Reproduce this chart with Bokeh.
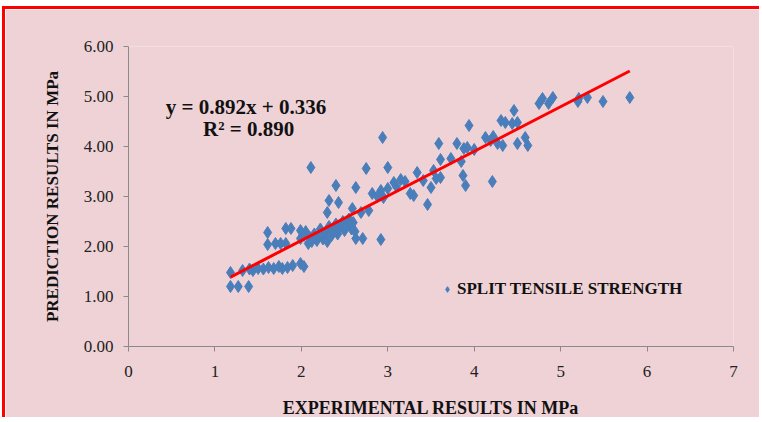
from bokeh.plotting import figure
from bokeh.models import Range1d, FixedTicker, NumeralTickFormatter, Legend, LegendItem, Label, ColumnDataSource
from bokeh.embed import file_html
from bokeh.resources import INLINE

# ---- data ----
experimental = [
    1.18, 1.27, 1.39,
    1.18, 1.32, 1.40, 1.44, 1.50, 1.56, 1.62, 1.68, 1.74, 1.78, 1.84, 1.90, 1.99, 2.03,
    1.61, 1.61, 1.70, 1.76, 1.82, 1.88, 1.82, 1.99, 1.99, 2.03, 2.08,
    2.05, 2.10, 2.12, 2.15, 2.18, 2.20, 2.22, 2.25, 2.28, 2.30, 2.32, 2.35, 2.38, 2.40, 2.42,
    2.45, 2.48, 2.50, 2.52, 2.55, 2.58, 2.60, 2.62,
    2.30, 2.32, 2.43, 2.59, 2.69, 2.78, 2.63, 2.71, 2.92,
    2.11, 2.40, 2.63, 2.75, 2.82, 2.92, 3.00, 2.88, 2.95, 2.94, 3.00,
    3.07, 3.10, 3.15, 3.20, 3.26, 3.30, 3.34, 3.41, 3.46, 3.50, 3.53, 3.56, 3.61, 3.59, 3.61,
    3.73, 3.80, 3.87, 3.88, 3.90, 3.94, 3.92, 3.85, 4.00,
    4.13, 4.19, 4.27, 4.21, 4.22, 4.31, 4.36, 4.44, 4.50, 4.46, 4.33, 4.50, 4.59, 4.62,
    4.75, 4.79, 4.86, 4.91, 5.20, 5.21, 5.31, 5.49, 5.80,
]
predicted = [
    1.20, 1.20, 1.20,
    1.48, 1.52, 1.55, 1.52, 1.56, 1.55, 1.58, 1.56, 1.60, 1.56, 1.58, 1.62, 1.66, 1.60,
    2.04, 2.28, 2.06, 2.06, 2.36, 2.36, 2.06, 2.16, 2.32, 2.22, 2.06,
    2.30, 2.18, 2.10, 2.25, 2.12, 2.20, 2.35, 2.15, 2.28, 2.10, 2.40, 2.22, 2.32, 2.45, 2.25,
    2.38, 2.50, 2.32, 2.42, 2.55, 2.35, 2.48, 2.30,
    2.68, 2.92, 2.88, 2.76, 2.68, 2.72, 2.16, 2.16, 2.14,
    3.58, 3.22, 3.18, 3.56, 3.06, 3.12, 3.16, 3.00, 2.98, 4.18, 3.58,
    3.28, 3.20, 3.34, 3.30, 3.06, 3.02, 3.48, 3.32, 2.84, 3.18, 3.52, 3.36, 3.38, 4.06, 3.74,
    3.76, 4.06, 3.42, 3.96, 3.22, 4.42, 3.98, 3.70, 3.94,
    4.18, 4.12, 4.06, 3.30, 4.20, 4.52, 4.48, 4.46, 4.48, 4.72, 4.02, 4.06, 4.18, 4.02,
    4.86, 4.96, 4.86, 4.98, 4.90, 4.96, 4.98, 4.90, 4.98,
]
slope = 0.892
intercept = 0.336
r_squared = 0.890
series_name = "SPLIT TENSILE STRENGTH"
x_title = "EXPERIMENTAL RESULTS IN MPa"
y_title = "PREDICTION RESULTS IN MPa"
x_ticks = [0, 1, 2, 3, 4, 5, 6, 7]
y_ticks = [0, 1, 2, 3, 4, 5, 6]

# ---- styling ----
BG = "#eed2d6"
SERIF = "Liberation Serif"

fit_x = [min(experimental), max(experimental)]
fit_y = [slope * v + intercept for v in fit_x]

p = figure(width=757, height=411, output_backend="svg", toolbar_location=None,
           x_range=Range1d(0, 7), y_range=Range1d(0, 6),
           min_border_left=123, min_border_right=29, min_border_top=37, min_border_bottom=74)
p.styles = {"margin-left": "2px", "margin-top": "6px",
            "border-left": "3px solid #ff0000", "border-top": "3px solid #ff0000"}
p.background_fill_color = BG
p.border_fill_color = BG
p.outline_line_color = None
p.xgrid.visible = False
p.ygrid.visible = False

src = ColumnDataSource(dict(x=experimental, y=predicted))
sc = p.scatter("x", "y", source=src, marker="diamond", size=12,
               fill_color="#4a7ebb", line_color="#4a7ebb")
p.line(fit_x, fit_y, line_color="#ff0000", line_width=3)

for ax in (p.xaxis[0], p.yaxis[0]):
    ax.axis_line_color = "#8a8a8a"
    ax.major_tick_line_color = "#8a8a8a"
    ax.minor_tick_line_color = None
    ax.major_tick_out = 5
    ax.major_tick_in = 0
    ax.major_label_text_font = SERIF
    ax.major_label_text_font_size = "17px"
    ax.major_label_text_color = "#222222"
    ax.axis_label_text_font = SERIF
    ax.axis_label_text_font_style = "bold"
    ax.axis_label_text_color = "#111111"

p.xaxis.axis_label_text_font_size = "18px"
p.yaxis.axis_label_text_font_size = "17px"
p.xaxis.ticker = FixedTicker(ticks=x_ticks)
p.yaxis.ticker = FixedTicker(ticks=y_ticks)
p.yaxis.formatter = NumeralTickFormatter(format="0.00")
p.xaxis.axis_label = x_title
p.yaxis.axis_label = y_title
p.xaxis.major_label_standoff = 14
p.xaxis.axis_label_standoff = 18
p.yaxis.major_label_standoff = 10
p.yaxis.axis_label_standoff = 19

eq_text = f"y = {slope:.3f}x + {intercept:.3f}"
r2_text = f"R\u00b2 = {r_squared:.3f}"
p.add_layout(Label(x=1.36, y=4.8, text=eq_text, text_align="center", text_baseline="middle",
                   text_font=SERIF, text_font_style="bold", text_font_size="21px",
                   text_color="#111111"))
p.add_layout(Label(x=1.39, y=4.36, text=r2_text, text_align="center", text_baseline="middle",
                   text_font=SERIF, text_font_style="bold", text_font_size="21px",
                   text_color="#111111"))

legend = Legend(items=[LegendItem(label=series_name, renderers=[sc])], location=(312, 47),
                background_fill_alpha=0, border_line_alpha=0, padding=0, margin=0,
                glyph_width=14, glyph_height=18, label_standoff=3,
                label_text_font=SERIF, label_text_font_style="bold", label_text_font_size="17px",
                label_text_color="#111111")
p.add_layout(legend)

open("out.html", "w").write(file_html(p, INLINE))
